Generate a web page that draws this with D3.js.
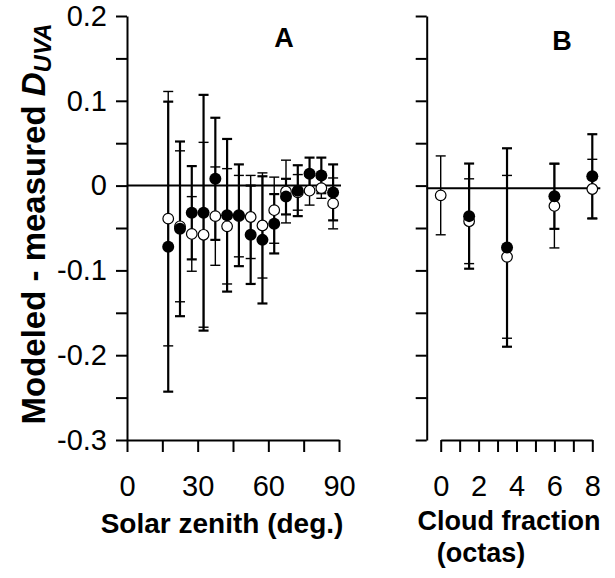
<!DOCTYPE html>
<html>
<head>
<meta charset="utf-8">
<script src="https://cdn.jsdelivr.net/npm/d3@7"></script>
<style>
  body { margin: 0; background: #fff; }
  svg { display: block; font-family: "Liberation Sans", Arial, sans-serif; }
  .axis path, .axis line { stroke: #000; stroke-width: 2; }
  .axis text { font-size: 29px; fill: #000; }
</style>
</head>
<body>
<svg id="chart" width="615" height="578"></svg>
<script>
// Panel A: solar zenith angle bins (deg.)
const zenith = [17.5, 22.5, 27.5, 32.5, 37.5, 42.5, 47.5, 52.5, 57.5, 62.5, 67.5, 72.5, 77.5, 82.5, 87.5];
const zenFilled    = [-0.072, -0.051, -0.032, -0.032, 0.008, -0.035, -0.035, -0.058, -0.064, -0.045, -0.013, -0.006, 0.014, 0.012, -0.008];
const zenFilledErr = [0.171, 0.103, 0.055, 0.139, 0.072, 0.090, 0.060, 0.058, 0.075, 0.035, 0.021, 0.030, 0.019, 0.021, 0.033];
const zenOpen      = [-0.039, -0.048, -0.057, -0.058, -0.036, -0.048, -0.036, -0.037, -0.047, -0.029, -0.007, -0.008, -0.006, -0.003, -0.021];
const zenOpenErr   = [0.150, 0.089, 0.044, 0.109, 0.058, 0.068, 0.048, 0.049, 0.062, 0.039, 0.037, 0.021, 0.017, 0.012, 0.030];

// Panel B: cloud fraction (octas)
const octas = [0, 1.5, 3.5, 6, 8];
const cloudFilled    = [null, -0.036, -0.073, -0.0125, 0.011];
const cloudFilledErr = [null, 0.062, 0.117, 0.0385, 0.0496];
const cloudOpen      = [-0.0115, -0.042, -0.084, -0.024, -0.004];
const cloudOpenErr   = [0.0465, 0.050, 0.096, 0.0495, 0.035];
const cloudRefLine = -0.003;

// tick values
const yTicks = d3.range(-0.3, 0.2001, 0.05).map(v => +v.toFixed(2));
const yLabels = [-0.3, -0.2, -0.1, 0, 0.1, 0.2];
const zenTicks = d3.range(0, 91, 15);
const zenLabels = [0, 30, 60, 90];
const octaTicks = d3.range(0, 9, 1);
const octaLabels = [0, 2, 4, 6, 8];

const svg = d3.select('#chart');
svg.append('rect').attr('width', 615).attr('height', 578).attr('fill', '#fff');

var y = d3.scaleLinear().domain([-0.3, 0.2]).range([440, 16]);
var xA = d3.scaleLinear().domain([0, 90]).range([127, 339]);
var xB = d3.scaleLinear().domain([0, 8]).range([440.7, 592.3]);
const axisBX = 426.7;

function fmtY(v) {
	if (!yLabels.some(l => Math.abs(l - v) < 1e-9)) return '';
	// plain hyphen, as in the original figure
	return v === 0 ? '0' : d3.format('.1f')(v).replace('\u2212', '-');
}

// y axes
svg.append('g')
	.attr('class', 'axis')
	.attr('transform', `translate(${xA(0)},0)`)
	.call(d3.axisLeft(y).tickValues(yTicks).tickFormat(fmtY).tickSize(11).tickSizeOuter(0).tickPadding(9));

svg.append('g')
	.attr('class', 'axis')
	.attr('transform', `translate(${axisBX},0)`)
	.call(d3.axisLeft(y).tickValues(yTicks).tickFormat('').tickSize(11).tickSizeOuter(0));

// x axes
svg.append('g')
	.attr('class', 'axis')
	.attr('transform', `translate(0,${y(-0.3)})`)
	.call(d3.axisBottom(xA).tickValues(zenTicks)
		.tickFormat(d => zenLabels.includes(d) ? d : '')
		.tickSize(12).tickSizeOuter(0).tickPadding(23));

svg.append('g')
	.attr('class', 'axis')
	.attr('transform', `translate(0,${y(-0.3)})`)
	.call(d3.axisBottom(xB).tickValues(octaTicks)
		.tickFormat(d => octaLabels.includes(d) ? d : '')
		.tickSize(12).tickSizeOuter(0).tickPadding(23));

// reference lines
svg.append('line')
	.attr('x1', xA(0)).attr('x2', xA(90) + 2)
	.attr('y1', y(0)).attr('y2', y(0))
	.attr('stroke', '#000').attr('stroke-width', 2);
svg.append('line')
	.attr('x1', axisBX).attr('x2', xB(8) + 8)
	.attr('y1', y(cloudRefLine)).attr('y2', y(cloudRefLine))
	.attr('stroke', '#000').attr('stroke-width', 2);

// error bars
function drawSeries(xs, means, errs, xScale, filled) {
	const pts = xs.map((x, i) => ({x: x, m: means[i], e: errs[i]})).filter(p => p.m !== null);
	const g = svg.append('g')
		.attr('stroke', '#000')
		.attr('stroke-width', filled ? 2.2 : 1.4);
	pts.forEach(p => {
		const cx = xScale(p.x);
		g.append('line').attr('x1', cx).attr('x2', cx).attr('y1', y(p.m + p.e)).attr('y2', y(p.m - p.e));
		g.append('line').attr('x1', cx - 5).attr('x2', cx + 5).attr('y1', y(p.m + p.e)).attr('y2', y(p.m + p.e));
		g.append('line').attr('x1', cx - 5).attr('x2', cx + 5).attr('y1', y(p.m - p.e)).attr('y2', y(p.m - p.e));
	});
	return pts;
}

function drawPoints(pts, xScale, filled) {
	svg.append('g')
		.selectAll('circle')
		.data(pts)
		.enter()
		.append('circle')
		.attr('cx', p => xScale(p.x))
		.attr('cy', p => y(p.m))
		.attr('r', filled ? 6 : 5.3)
		.attr('fill', filled ? '#000' : '#fff')
		.attr('stroke', '#000')
		.attr('stroke-width', filled ? 0 : 1.2);
}

const aOpen = drawSeries(zenith, zenOpen, zenOpenErr, xA, false);
const aFilled = drawSeries(zenith, zenFilled, zenFilledErr, xA, true);
const bOpen = drawSeries(octas, cloudOpen, cloudOpenErr, xB, false);
const bFilled = drawSeries(octas, cloudFilled, cloudFilledErr, xB, true);
drawPoints(aOpen, xA, false);
drawPoints(bOpen, xB, false);
drawPoints(aFilled, xA, true);
drawPoints(bFilled, xB, true);

// panel letters
svg.append('text').attr('x', 284).attr('y', 47).attr('text-anchor', 'middle')
	.attr('font-size', 27).attr('font-weight', 'bold').text('A');
svg.append('text').attr('x', 562).attr('y', 50).attr('text-anchor', 'middle')
	.attr('font-size', 27).attr('font-weight', 'bold').text('B');

// axis titles
svg.append('text').attr('x', 222).attr('y', 533).attr('text-anchor', 'middle')
	.attr('font-size', 28).attr('font-weight', 'bold').text('Solar zenith (deg.)');
svg.append('text').attr('x', 509).attr('y', 530).attr('text-anchor', 'middle')
	.attr('font-size', 27).attr('font-weight', 'bold').text('Cloud fraction');
svg.append('text').attr('x', 481).attr('y', 562).attr('text-anchor', 'middle')
	.attr('font-size', 27).attr('font-weight', 'bold').text('(octas)');

const yTitle = svg.append('text')
	.attr('transform', 'translate(45,224) rotate(-90)')
	.attr('text-anchor', 'middle')
	.attr('font-size', 33).attr('font-weight', 'bold');
yTitle.append('tspan').text('Modeled - measured ');
yTitle.append('tspan').attr('font-style', 'italic').text('D');
yTitle.append('tspan').attr('font-style', 'italic').attr('font-size', 24).attr('dy', 6).text('UVA');
</script>
</body>
</html>
